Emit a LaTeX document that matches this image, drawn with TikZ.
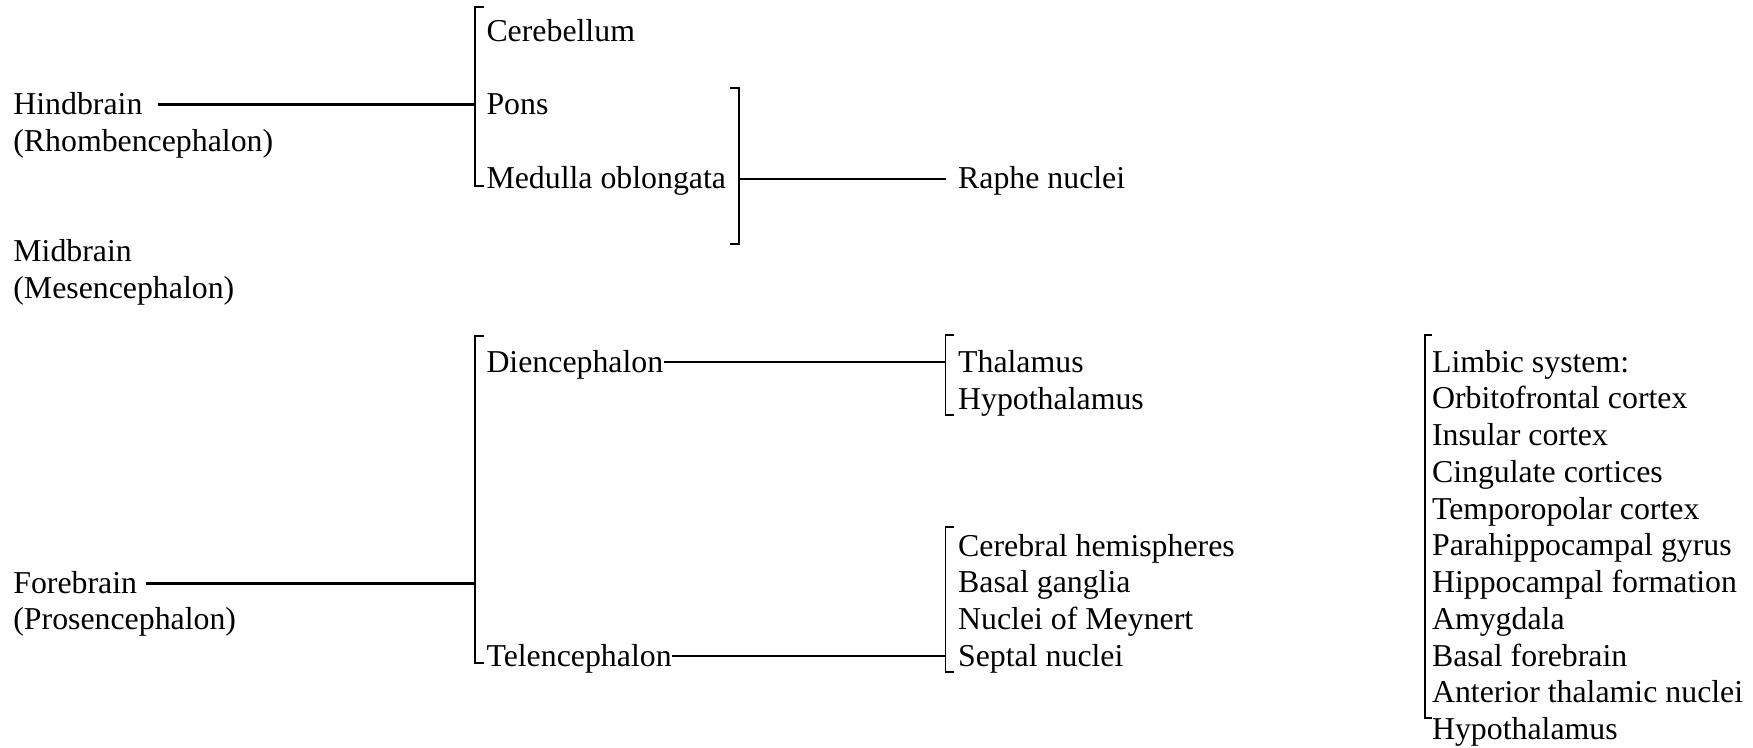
\documentclass[tikz,border=0pt]{standalone}
\usepackage{fontspec}
\setmainfont{Liberation Serif}
\usepackage{tikz}
\usetikzlibrary{positioning}
\tikzset{lbl/.style={anchor=base west, inner sep=0pt, text height=8.6pt, text depth=1pt, font=\fontsize{12}{14}\selectfont}}
\tikzset{brace/.style={line width=0.7pt}}
\tikzset{link/.style={line width=0.8pt}}
\tikzset{biglink/.style={line width=1.15pt}}

\begin{document}
\begin{tikzpicture}
\useasboundingbox (0,0) rectangle (23.23,-9.91);
% left column
\node[lbl] (hind) at (0.17,-1.52) {Hindbrain};
\node[lbl] (rhomb) at (0.17,-2.01) {(Rhombencephalon)};
\node[lbl] (mid) at (0.17,-3.47) {Midbrain};
\node[lbl] (mesen) at (0.17,-3.96) {(Mesencephalon)};
\node[lbl] (fore) at (0.17,-7.86) {Forebrain};
\node[lbl] (prosen) at (0.17,-8.34) {(Prosencephalon)};
% hindbrain parts
\node[lbl] (cereb) at (6.44,-0.55) {Cerebellum};
\node[lbl] (pons) at (6.44,-1.52) {Pons};
\node[lbl] (medul) at (6.44,-2.50) {Medulla oblongata};
\node[lbl] (raphe) at (12.69,-2.50) {Raphe nuclei};
% forebrain parts
\node[lbl] (dien) at (6.44,-4.93) {Diencephalon};
\node[lbl] (telen) at (6.44,-8.83) {Telencephalon};
\node[lbl] (thal) at (12.69,-4.93) {Thalamus};
\node[lbl] (hypo) at (12.69,-5.42) {Hypothalamus};
\foreach \t [count=\i from 0] in {Cerebral hemispheres, Basal ganglia, Nuclei of Meynert, Septal nuclei}
  \node[lbl] (tel\i) at (12.69,{-7.37-0.487*\i}) {\t};
\foreach \t [count=\i from 0] in {Limbic system:, Orbitofrontal cortex, Insular cortex, Cingulate cortices, Temporopolar cortex, Parahippocampal gyrus, Hippocampal formation, Amygdala, Basal forebrain, Anterior thalamic nuclei, Hypothalamus}
  \node[lbl] (limb\i) at (18.97,{-4.93-0.487*\i}) {\t};
% brackets
\coordinate (hindbr) at (6.30,0);
\coordinate (medbr) at (9.79,0);
\coordinate (forebr) at (6.30,0);
\coordinate (dienbr) at (12.53,0);
\coordinate (telbr) at (12.53,0);
\draw[brace] (6.41,-0.09) -- (6.30,-0.09) -- (6.30,-2.46) -- (6.41,-2.46);
\draw[brace] (9.68,-1.17) -- (9.79,-1.17) -- (9.79,-3.23) -- (9.68,-3.23);
\draw[brace] (6.41,-4.45) -- (6.30,-4.45) -- (6.30,-8.79) -- (6.41,-8.79);
\draw[brace] (12.64,-4.44) -- (12.53,-4.44) -- (12.53,-5.50) -- (12.64,-5.50);
\draw[brace] (12.64,-6.98) -- (12.53,-6.98) -- (12.53,-8.90) -- (12.64,-8.90);
\draw[brace] (18.98,-4.44) -- (18.88,-4.44) -- (18.88,-9.52) -- (18.98,-9.52);
% connectors
\draw[biglink, shorten <=5.5pt] (hind.east) -- (hind.east -| hindbr);
\draw[biglink, shorten <=3pt] (fore.east) -- (fore.east -| forebr);
\draw[link, shorten >=4.5pt] (raphe.west -| medbr) -- (raphe.west);
\draw[link] (dien.east) -- (dien.east -| dienbr);
\draw[link] (telen.east) -- (telen.east -| telbr);
\end{tikzpicture}
\end{document}
